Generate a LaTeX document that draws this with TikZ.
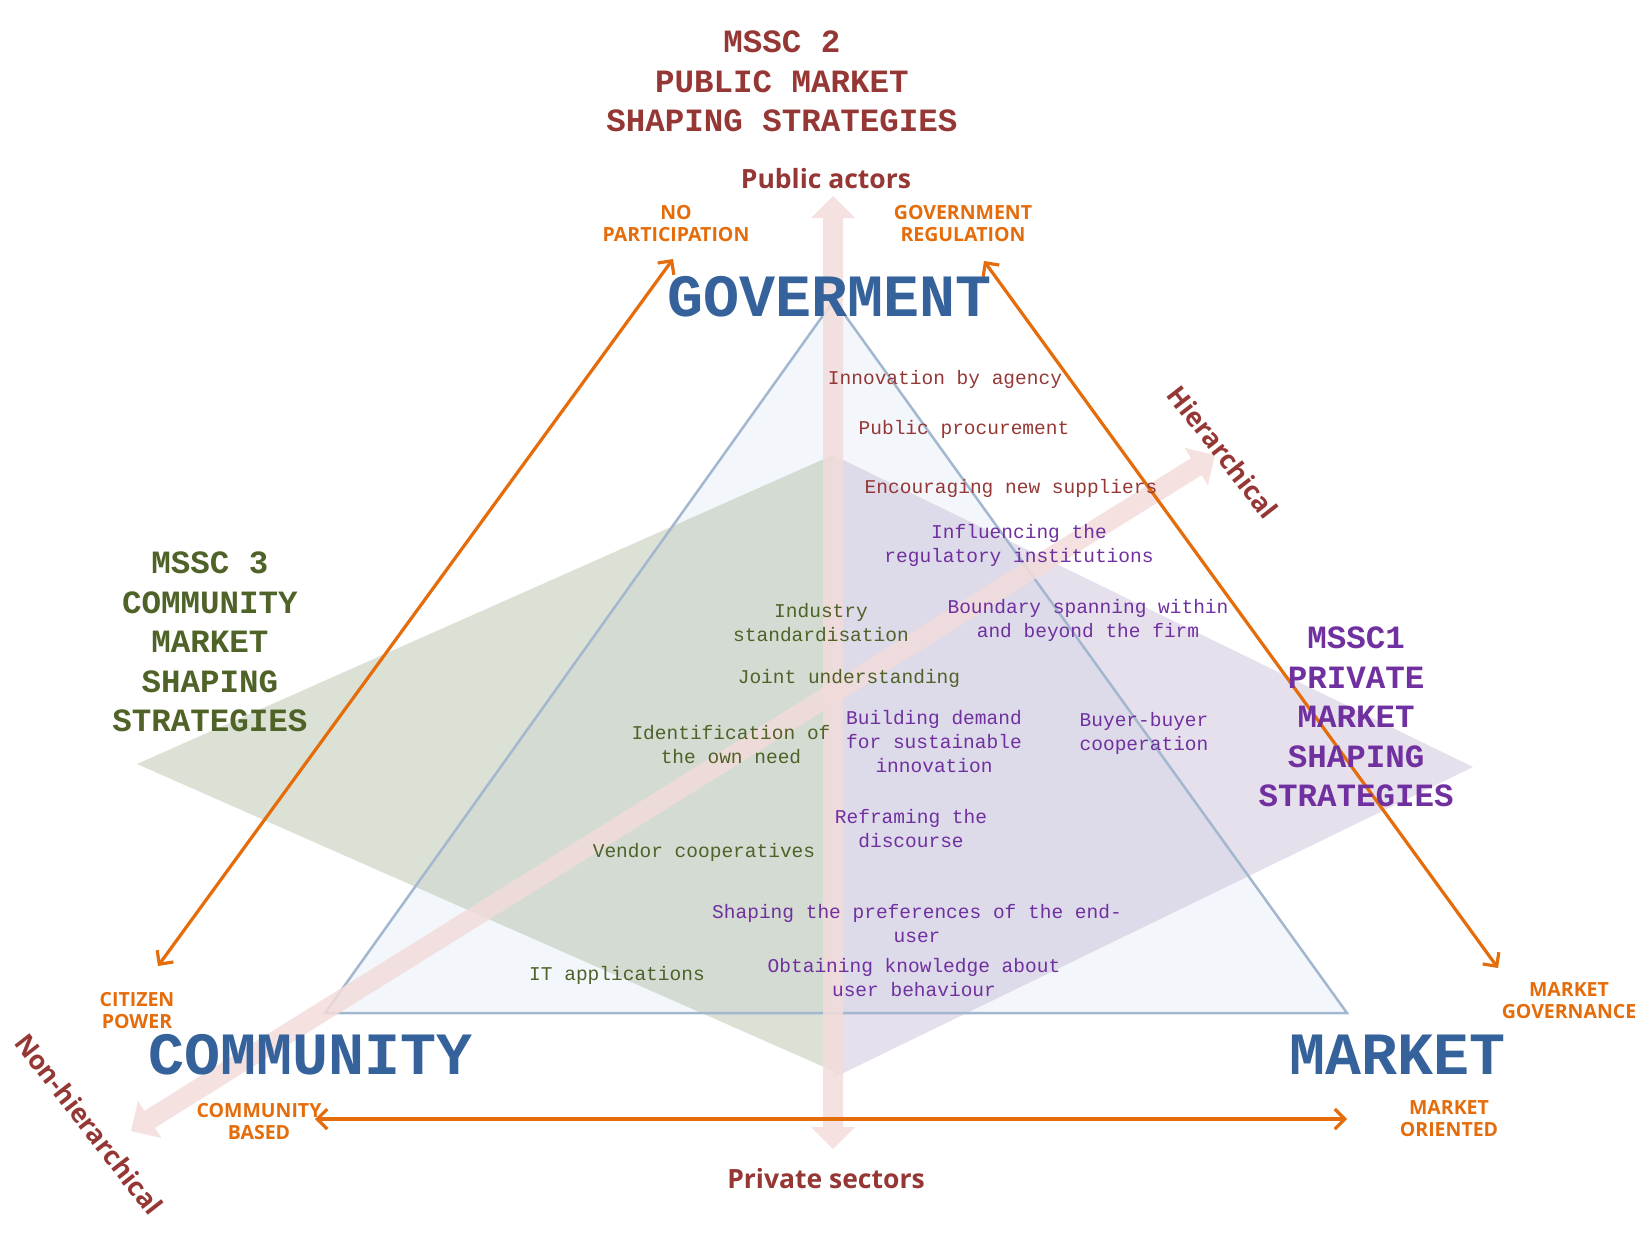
\documentclass[tikz,border=0pt]{standalone}
\usepackage{fontspec}
\setmainfont{Liberation Serif}
\newfontfamily\monof{Liberation Mono}
\newfontfamily\sansf{Open Sans}
\usetikzlibrary{arrows.meta}
\definecolor{dred}{HTML}{953735}
\definecolor{purp}{HTML}{7030A0}
\definecolor{olive}{HTML}{4F6228}
\definecolor{orng}{HTML}{E46C0A}
\definecolor{blu}{HTML}{35629A}
\definecolor{triline}{HTML}{A3B7CF}
\definecolor{trifill}{HTML}{F3F6FB}
\definecolor{pinkarr}{HTML}{F2DCDB}
\definecolor{greenfill}{HTML}{9CAA88}
\definecolor{purpfill}{HTML}{B5A6C9}
\tikzset{
  bigword/.style={font=\monof\bfseries\fontsize{60}{60}\selectfont, text=blu, inner sep=0pt},
  heading/.style={font=\monof\bfseries\fontsize{32.5}{39.5}\selectfont, align=center, inner sep=0pt},
  intext/.style={font=\monof\fontsize{19.5}{24}\selectfont, align=center, inner sep=0pt},
  olab/.style={font=\sansf\bfseries\fontsize{19.5}{22}\selectfont, text=orng, align=center, inner sep=0pt},
  axislab/.style={font=\sansf\bfseries\fontsize{26.5}{30}\selectfont, text=dred, inner sep=0pt},
  oarrow/.style={draw=orng, line width=3.2pt, {Straight Barb[length=10pt,width=20pt]}-{Straight Barb[length=10pt,width=20pt]}},
  pinkfill/.style={fill=pinkarr, fill opacity=0.85}
}
\begin{document}
\begin{tikzpicture}[x=1pt,y=-1pt]
\useasboundingbox (0,0) rectangle (1646,1240);
% triangle
\coordinate (ta) at (834,300);
\coordinate (tl) at (325,1013);
\coordinate (tr) at (1347,1013);
\fill[trifill] (ta) -- (tl) -- (tr) -- cycle;
% strategy areas
\coordinate (gl) at (137,764);
\coordinate (gt) at (833,455);
\coordinate (gb) at (833,1071);
\coordinate (pr) at (1473,767);
\coordinate (pb) at (833,1078);
\fill[greenfill, fill opacity=0.35] (gl) -- (gt) -- (gb) -- cycle;
\fill[purpfill, fill opacity=0.35] (gt) -- (pr) -- (pb) -- cycle;
\draw[triline, line width=2.5pt, line join=miter] (ta) -- (tl) -- (tr) -- cycle;
% pink arrows
\begin{scope}[shift={(833,1149)}, rotate=90]
  \fill[pinkfill] (0,0) -- (22,22) -- (22,10) -- (931,10) -- (931,22) -- (953,0) -- (931,-22) -- (931,-10) -- (22,-10) -- (22,-22) -- cycle;
\end{scope}
\begin{scope}[shift={(131,1131)}, rotate=31.95]
  \fill[pinkfill] (0,0) -- (22,22) -- (22,10) -- (1255.5,10) -- (1255.5,22) -- (1277.5,0) -- (1255.5,-22) -- (1255.5,-10) -- (22,-10) -- (22,-22) -- cycle;
\end{scope}
% orange arrows
\coordinate (oa1) at (158,966);
\coordinate (oa2) at (673,259);
\coordinate (ob1) at (984,261);
\coordinate (ob2) at (1498,968);
\coordinate (oc1) at (315,1119);
\coordinate (oc2) at (1347,1119);
\draw[oarrow] (oa1) -- (oa2);
\draw[oarrow] (ob1) -- (ob2);
\draw[oarrow] (oc1) -- (oc2);
% headings
\node[heading, text=dred] (mssc2) at (782,81.5) {MSSC 2\\PUBLIC MARKET\\SHAPING STRATEGIES};
\node[heading, text=olive] (mssc3) at (210,642) {MSSC 3\\COMMUNITY\\MARKET\\SHAPING\\STRATEGIES};
\node[heading, text=purp] (mssc1) at (1356,717) {MSSC1\\PRIVATE\\MARKET\\SHAPING\\STRATEGIES};
% big words
\node[bigword] (gov) at (830,297) {GOVERMENT};
\node[bigword] (com) at (311,1055) {COMMUNITY};
\node[bigword] (mkt) at (1398,1055) {MARKET};
% axis labels
\node[axislab] (pubact) at (826,179) {Public actors};
\node[axislab] (privsec) at (826,1179) {Private sectors};
\node[axislab, rotate=-52] (hier) at (1223,452) {Hierarchical};
\node[axislab, rotate=-52] (nonhier) at (89,1124) {Non-hierarchical};
% orange labels
\node[olab] (nopart) at (676,224) {NO\\PARTICIPATION};
\node[olab] (govreg) at (963,224) {GOVERNMENT\\REGULATION};
\node[olab] (citizen) at (137,1011) {CITIZEN\\POWER};
\node[olab] (combased) at (259,1122) {COMMUNITY\\BASED};
\node[olab] (mktgov) at (1569,1001) {MARKET\\GOVERNANCE};
\node[olab] (mktor) at (1449,1119) {MARKET\\ORIENTED};
% inner texts: public
\node[intext, text=dred] (t1) at (945,379) {Innovation by agency};
\node[intext, text=dred] (t2) at (964,429) {Public procurement};
\node[intext, text=dred] (t3) at (1011,488) {Encouraging new suppliers};
% inner texts: private
\node[intext, text=purp] (t4) at (1019,545.5) {Influencing the\\regulatory institutions};
\node[intext, text=purp] (t5) at (1088,620.5) {Boundary spanning within\\and beyond the firm};
\node[intext, text=purp] (t6) at (934,742) {Building demand\\for sustainable\\innovation};
\node[intext, text=purp] (t7) at (1144,733.5) {Buyer-buyer\\cooperation};
\node[intext, text=purp] (t8) at (911,829) {Reframing the\\discourse};
\node[intext, text=purp] (t9) at (917,923.5) {Shaping the preferences of the end-\\user};
\node[intext, text=purp] (t10) at (914,977.5) {Obtaining knowledge about\\user behaviour};
% inner texts: community
\node[intext, text=olive] (t11) at (821,622.5) {Industry\\standardisation};
\node[intext, text=olive] (t12) at (849,678) {Joint understanding};
\node[intext, text=olive] (t13) at (731,744.5) {Identification of\\the own need};
\node[intext, text=olive] (t14) at (704,852) {Vendor cooperatives};
\node[intext, text=olive] (t15) at (617,975) {IT applications};
\end{tikzpicture}
\end{document}
